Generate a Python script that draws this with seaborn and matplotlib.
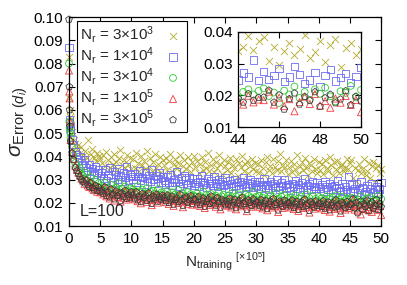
import numpy as np
import pandas as pd
import matplotlib
matplotlib.use("Agg")
import matplotlib.pyplot as plt
from matplotlib.ticker import FormatStrFormatter
import seaborn as sns

# training set size (x 1e5): a few very early checkpoints, then every 0.25
x_early = [0.0, 0.05, 0.1, 0.15]
x_step = np.arange(1, 201) * 0.25
n_train = np.concatenate([x_early, x_step])

# sigma_Error values, in units of 1e-4
err_3e3 = [830, 650, 600, 570,
           560, 505, 470, 455, 430, 448, 415, 440, 402, 425, 398, 470, 385, 410, 432, 395, 378, 415, 400, 388,
           372, 405, 358, 420, 386, 349, 398, 365, 412, 377, 340, 395, 428, 362, 384, 351, 407, 369, 392, 345,
           388, 352, 415, 370, 336, 402, 364, 381, 347, 425, 359, 393, 338, 376, 410, 352, 368, 399, 331, 384,
           361, 394, 342, 378, 412, 335, 367, 389, 350, 372, 405, 328, 359, 386, 346, 398, 363, 334, 377, 402,
           355, 381, 327, 369, 398, 343, 374, 352, 415, 338, 362, 390, 331, 377, 349, 405, 366, 322, 384, 357,
           342, 376, 395, 328, 361, 349, 387, 315, 372, 354, 401, 336, 365, 382, 329, 358, 390, 345, 371, 338,
           366, 331, 384, 352, 319, 375, 398, 343, 360, 327, 389, 356, 341, 379, 412, 335, 362, 348, 386, 324,
           355, 382, 331, 368, 345, 404, 326, 359, 377, 340, 392, 351, 318, 372, 363, 336, 388, 347, 329, 374,
           341, 369, 326, 385, 352, 337, 396, 361, 318, 374, 345, 382, 330, 358, 367, 339, 352, 388, 344, 372,
           383, 308, 352, 296, 341, 365, 328, 347, 390, 318, 336, 372, 305, 358, 377, 289, 349, 364, 327, 345]

err_1e4 = [870, 560, 545, 530,
           510, 470, 452, 420, 408, 385, 398, 372, 360, 385, 352, 340, 365, 335, 348, 322, 356, 330, 342, 318,
           328, 305, 342, 296, 318, 351, 310, 289, 335, 322, 301, 346, 315, 292, 330, 308, 355, 297, 320, 312,
           302, 325, 288, 314, 337, 296, 309, 281, 328, 305, 318, 292, 342, 299, 285, 316, 306, 331, 290, 311,
           296, 278, 312, 289, 320, 275, 301, 288, 335, 294, 270, 307, 283, 315, 298, 279, 310, 287, 302, 276,
           285, 302, 271, 293, 318, 279, 288, 266, 305, 282, 297, 274, 312, 286, 269, 300, 281, 293, 275, 308,
           279, 264, 296, 283, 270, 301, 275, 288, 262, 293, 278, 310, 268, 285, 273, 298, 281, 266, 290, 276,
           271, 289, 262, 280, 305, 268, 276, 259, 292, 274, 283, 265, 298, 270, 257, 286, 275, 300, 263, 279,
           268, 254, 283, 272, 295, 261, 278, 250, 287, 266, 302, 258, 274, 281, 256, 290, 269, 263, 285, 271,
           262, 279, 250, 291, 268, 256, 284, 271, 247, 275, 260, 296, 265, 252, 281, 248, 270, 258, 312, 246,
           276, 251, 262, 284, 243, 258, 291, 266, 237, 248, 273, 229, 262, 281, 245, 256, 268, 240, 259, 287]

err_3e4 = [800, 550, 520, 505,
           480, 440, 405, 372, 360, 338, 350, 322, 316, 305, 328, 296, 288, 310, 282, 275, 298, 270, 284, 265,
           272, 255, 286, 248, 263, 240, 277, 258, 232, 266, 251, 284, 244, 259, 238, 270, 253, 229, 262, 247,
           258, 236, 249, 271, 228, 244, 257, 222, 239, 263, 231, 248, 216, 252, 240, 227, 259, 235, 244, 221,
           238, 224, 251, 217, 232, 245, 212, 236, 228, 255, 219, 233, 242, 208, 229, 246, 222, 237, 214, 231,
           226, 241, 212, 229, 218, 248, 205, 233, 221, 214, 238, 226, 199, 231, 219, 244, 211, 227, 235, 208,
           219, 232, 206, 225, 243, 213, 228, 198, 236, 217, 224, 209, 239, 215, 230, 203, 221, 246, 212, 226,
           214, 229, 201, 222, 236, 208, 218, 193, 231, 212, 225, 204, 241, 216, 199, 227, 210, 234, 205, 220,
           211, 224, 197, 216, 232, 203, 219, 190, 227, 208, 214, 236, 199, 221, 206, 229, 194, 217, 210, 225,
           206, 220, 194, 213, 228, 201, 217, 188, 223, 209, 232, 197, 215, 204, 226, 192, 211, 219, 203, 214,
           222, 198, 209, 176, 215, 203, 228, 192, 211, 186, 219, 205, 224, 197, 181, 213, 208, 230, 194, 217]

err_1e5 = [770, 680, 650, 550,
           470, 420, 390, 360, 342, 330, 318, 305, 296, 282, 300, 275, 268, 288, 262, 255, 270, 248, 260, 245,
           252, 236, 265, 228, 244, 219, 257, 233, 210, 246, 226, 240, 205, 238, 222, 249, 214, 231, 220, 243,
           231, 215, 242, 207, 223, 198, 236, 219, 228, 204, 240, 212, 190, 226, 217, 234, 201, 222, 211, 229,
           218, 203, 229, 195, 212, 224, 187, 209, 217, 199, 232, 206, 181, 214, 221, 196, 208, 226, 192, 211,
           209, 194, 221, 186, 203, 215, 178, 200, 212, 191, 224, 197, 206, 183, 217, 199, 172, 210, 202, 189,
           203, 188, 214, 180, 197, 209, 172, 194, 205, 185, 218, 191, 200, 164, 207, 196, 183, 211, 189, 199,
           198, 183, 209, 176, 192, 204, 168, 189, 201, 180, 213, 186, 195, 160, 202, 191, 178, 206, 185, 194,
           195, 180, 206, 173, 190, 201, 165, 187, 198, 178, 210, 183, 192, 158, 199, 188, 175, 203, 182, 191,
           190, 176, 201, 169, 186, 197, 162, 183, 194, 174, 205, 179, 188, 156, 196, 184, 171, 199, 178, 187,
           185, 212, 171, 193, 166, 188, 150, 179, 196, 173, 204, 168, 182, 161, 190, 177, 198, 170, 186, 147]

err_3e5 = [990, 700, 600, 530,
           465, 415, 385, 352, 338, 325, 312, 300, 292, 285, 298, 278, 270, 286, 265, 258, 274, 252, 266, 249,
           255, 240, 268, 231, 247, 224, 259, 236, 216, 250, 230, 244, 210, 241, 226, 253, 219, 235, 223, 246,
           234, 220, 246, 212, 228, 204, 239, 223, 231, 209, 243, 217, 196, 229, 221, 237, 206, 226, 215, 232,
           222, 208, 233, 200, 216, 228, 193, 213, 221, 204, 236, 211, 188, 218, 225, 201, 212, 230, 197, 215,
           213, 199, 226, 191, 208, 220, 184, 205, 217, 196, 229, 202, 211, 189, 222, 204, 180, 215, 207, 194,
           208, 193, 219, 186, 202, 214, 178, 199, 210, 190, 223, 196, 205, 171, 212, 201, 188, 216, 194, 204,
           203, 189, 214, 182, 197, 209, 174, 195, 206, 186, 218, 192, 200, 168, 207, 196, 184, 211, 190, 199,
           200, 186, 211, 179, 195, 206, 171, 192, 203, 184, 215, 189, 197, 166, 204, 193, 181, 208, 187, 196,
           197, 183, 208, 176, 192, 203, 169, 189, 200, 181, 212, 186, 194, 164, 201, 190, 178, 205, 184, 193,
           194, 216, 178, 201, 156, 189, 207, 172, 196, 184, 211, 165, 192, 203, 176, 188, 214, 170, 197, 182]

labels = ["N$_\\mathrm{r}$ = 3×10$^3$", "N$_\\mathrm{r}$ = 1×10$^4$", "N$_\\mathrm{r}$ = 3×10$^4$",
          "N$_\\mathrm{r}$ = 1×10$^5$", "N$_\\mathrm{r}$ = 3×10$^5$"]
series = [err_3e3, err_1e4, err_3e4, err_1e5, err_3e5]
colors = ["#b3aa2c", "#6b6bf2", "#2ecc2e", "#f03c3c", "#3c3c3c"]
markers = ["x", "s", "o", "^", "p"]
sizes = [26, 28, 24, 26, 26]

sns.set_theme(style="ticks")
plt.rcParams["font.family"] = ["Liberation Sans", "DejaVu Sans"]
plt.rcParams["mathtext.fontset"] = "custom"
plt.rcParams["mathtext.rm"] = "Liberation Sans"
plt.rcParams["mathtext.it"] = "Liberation Sans:italic"
plt.rcParams["mathtext.bf"] = "Liberation Sans:bold"

frames = []
for lab, vals in zip(labels, series):
    frames.append(pd.DataFrame({"x": n_train, "err": np.array(vals) / 1e4, "Nr": lab}))
df = pd.concat(frames, ignore_index=True)


def draw(ax, legend, clip):
    for lab, col, mk, sz in zip(labels, colors, markers, sizes):
        d = df[df["Nr"] == lab]
        kw = dict(color=col) if mk == "x" else dict(color=col, facecolor="none", edgecolor=col)
        sns.scatterplot(data=d, x="x", y="err", marker=mk, s=sz, linewidth=0.6,
                        label=lab if legend else None, ax=ax, legend=False,
                        clip_on=clip, **kw)
    ax.tick_params(direction="in", top=True, right=True, length=4, width=0.8,
                   labelsize=11, colors="black", pad=4)
    for sp in ax.spines.values():
        sp.set_linewidth(0.9)
        sp.set_color("black")
    ax.set_xlabel("")
    ax.set_ylabel("")


fig = plt.figure(figsize=(4.07, 2.85), dpi=100)
ax = fig.add_axes([0.1695, 0.207, 0.767, 0.733])
draw(ax, True, False)
ax.set_xlim(0, 50)
ax.set_ylim(0.01, 0.10)
ax.set_xticks(np.arange(0, 51, 5))
ax.set_yticks(np.arange(0.01, 0.1001, 0.01))
ax.yaxis.set_major_formatter(FormatStrFormatter("%.2f"))
ax.set_xlabel(r"N$_\mathrm{training}$ ${}^{[\times10^5]}$", fontsize=11, labelpad=3)
ax.set_ylabel(r"$\sigma_{\mathrm{Error}\ (d_i)}$", fontsize=15, labelpad=3)
ax.text(0.035, 0.035, "L=100", transform=ax.transAxes, fontsize=11.5, ha="left", va="bottom")

ax.legend(loc="upper left", bbox_to_anchor=(0.026, 0.98), markerfirst=False, fancybox=False,
          edgecolor="black", framealpha=1, fontsize=11, labelspacing=0.0, handletextpad=0.5,
          borderpad=0.2, handlelength=1.4, borderaxespad=0)
ax.get_legend().get_frame().set_linewidth(0.8)

ins = fig.add_axes([0.585, 0.554, 0.302, 0.334])
draw(ins, False, True)
ins.set_xlim(44, 50)
ins.set_ylim(0.01, 0.04)
ins.set_xticks([44, 46, 48, 50])
ins.set_yticks([0.01, 0.02, 0.03, 0.04])
ins.yaxis.set_major_formatter(FormatStrFormatter("%.2f"))

fig.savefig("out.png", dpi=100)
